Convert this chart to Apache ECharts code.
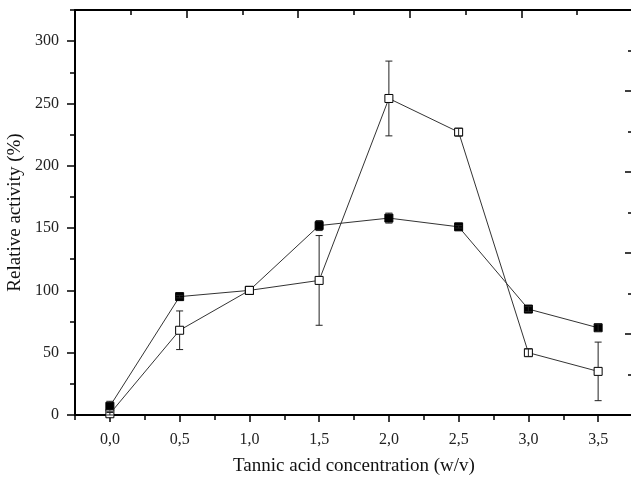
<!DOCTYPE html>
<html><head><meta charset="utf-8">
<script src="https://cdn.jsdelivr.net/npm/echarts@6/dist/echarts.min.js"></script>
<style>html,body{margin:0;padding:0;background:#fff}#c{width:631px;height:478px}</style>
</head><body><div id="c"></div>
<script>
const concentrations = [0, 0.5, 1.0, 1.5, 2.0, 2.5, 3.0, 3.5];
const filledValues = [7, 95, 100, 152, 158, 151, 85, 70];
const filledErrors = [4, 1, 0, 4, 4, 1, 2, 3];
const openValues = [1, 68, 100, 108, 254, 227, 50, 35];
const openErrors = [1, 15.5, 0, 36, 30, 3, 3, 23.5];
const xMajorTicks = [0, 0.5, 1, 1.5, 2, 2.5, 3, 3.5];
const xMinorTicks = [-0.25, 0.25, 0.75, 1.25, 1.75, 2.25, 2.75, 3.25, 3.75];
const yMajorTicks = [0, 50, 100, 150, 200, 250, 300];
const yMinorTicks = [25, 75, 125, 175, 225, 275, 325];
const rightMajorTicks = [0, 1, 2, 3, 4, 5];
const rightMinorTicks = [0.5, 1.5, 2.5, 3.5, 4.5];
const topMajorTicks = [0, 2, 4, 6, 8, 10];
const topMinorTicks = [1, 3, 5, 7, 9];

const FONT = '"Liberation Serif", "Times New Roman", serif';
const chart = echarts.init(document.getElementById('c'), null, {renderer: 'canvas'});

function hiddenAxisParts(o) {
  return Object.assign({
    axisLabel: {show: false},
    splitLine: {show: false},
    axisLine: {show: false, onZero: false}
  }, o);
}

function errorSeries(vals, errs) {
  return {
    type: 'custom',
    xAxisIndex: 0, yAxisIndex: 0,
    z: 5,
    silent: true,
    data: concentrations.map((x, i) => [x, vals[i], errs[i]]),
    renderItem: function (params, api) {
      const x = api.value(0), v = api.value(1), e = api.value(2);
      if (!e) return {type: 'group', children: []};
      const c = api.coord([x, v]);
      const hi = api.coord([x, v + e]);
      const lo = api.coord([x, v - e]);
      const w = 3.5, half = 4;
      const st = {stroke: '#222', lineWidth: 1};
      const ch = [];
      const epx = c[1] - hi[1];
      if (epx > half) {
        ch.push({type: 'line', shape: {x1: c[0], y1: hi[1], x2: c[0], y2: c[1] - half}, style: st});
        ch.push({type: 'line', shape: {x1: c[0], y1: c[1] + half, x2: c[0], y2: lo[1]}, style: st});
      } else {
        ch.push({type: 'line', shape: {x1: c[0], y1: hi[1], x2: c[0], y2: lo[1]}, style: st});
      }
      ch.push({type: 'line', shape: {x1: c[0] - w, y1: hi[1], x2: c[0] + w, y2: hi[1]}, style: st});
      ch.push({type: 'line', shape: {x1: c[0] - w, y1: lo[1], x2: c[0] + w, y2: lo[1]}, style: st});
      return {type: 'group', children: ch};
    }
  };
}

const option = {
  animation: false,
  backgroundColor: '#fff',
  grid: {left: 75, right: -2, top: 10, bottom: 63, containLabel: false, outerBoundsMode: 'none'},
  xAxis: [
    {
      type: 'value', position: 'bottom', min: -0.25, max: 3.75,
      name: 'Tannic acid concentration (w/v)', nameLocation: 'middle', nameGap: 42,
      nameTextStyle: {fontFamily: FONT, fontSize: 19, color: '#111'},
      axisLine: {show: true, onZero: false, lineStyle: {color: '#000', width: 2}},
      axisTick: {show: true, inside: false, length: 7, customValues: xMajorTicks, lineStyle: {color: '#000', width: 1.5}},
      axisLabel: {show: true, margin: 17, customValues: xMajorTicks, fontFamily: FONT, fontSize: 16, color: '#222',
        formatter: v => v.toFixed(1).replace('.', ',')},
      splitLine: {show: false}
    },
    hiddenAxisParts({
      type: 'value', position: 'bottom', min: -0.25, max: 3.75,
      axisTick: {show: true, inside: false, length: 5, customValues: xMinorTicks, lineStyle: {color: '#000', width: 1.5}}
    }),
    {
      type: 'value', position: 'top', min: 0, max: 10,
      axisLine: {show: true, onZero: false, lineStyle: {color: '#000', width: 2}},
      axisTick: {show: true, inside: true, length: 8, customValues: topMajorTicks, lineStyle: {color: '#000', width: 1.5}},
      axisLabel: {show: false}, splitLine: {show: false}
    },
    hiddenAxisParts({
      type: 'value', position: 'top', min: 0, max: 10,
      axisTick: {show: true, inside: true, length: 5, customValues: topMinorTicks, lineStyle: {color: '#000', width: 1.5}}
    })
  ],
  yAxis: [
    {
      type: 'value', position: 'left', min: 0, max: 325,
      name: 'Relative activity (%)', nameLocation: 'middle', nameGap: 44,
      nameTextStyle: {fontFamily: FONT, fontSize: 19, color: '#111'},
      axisLine: {show: true, onZero: false, lineStyle: {color: '#000', width: 2}},
      axisTick: {show: true, inside: false, length: 8, customValues: yMajorTicks, lineStyle: {color: '#000', width: 1.5}},
      axisLabel: {show: true, margin: 16, customValues: yMajorTicks, fontFamily: FONT, fontSize: 16, color: '#222'},
      splitLine: {show: false}
    },
    hiddenAxisParts({
      type: 'value', position: 'left', min: 0, max: 325,
      axisTick: {show: true, inside: false, length: 5, customValues: yMinorTicks, lineStyle: {color: '#000', width: 1.5}}
    }),
    hiddenAxisParts({
      type: 'value', position: 'right', min: 0, max: 5,
      axisTick: {show: true, inside: true, length: 8, customValues: rightMajorTicks, lineStyle: {color: '#000', width: 1.5}}
    }),
    hiddenAxisParts({
      type: 'value', position: 'right', min: 0, max: 5,
      axisTick: {show: true, inside: true, length: 5, customValues: rightMinorTicks, lineStyle: {color: '#000', width: 1.5}}
    })
  ],
  series: [
    {
      type: 'line', xAxisIndex: 0, yAxisIndex: 0, z: 3,
      data: concentrations.map((x, i) => [x, filledValues[i]]),
      symbol: 'rect', symbolSize: 8,
      lineStyle: {color: '#333', width: 1},
      itemStyle: {color: '#000', borderColor: '#000', borderWidth: 1}
    },
    {
      type: 'line', xAxisIndex: 0, yAxisIndex: 0, z: 4,
      data: concentrations.map((x, i) => [x, openValues[i]]),
      symbol: 'rect', symbolSize: 8,
      lineStyle: {color: '#333', width: 1},
      itemStyle: {color: '#fff', borderColor: '#000', borderWidth: 1}
    },
    errorSeries(filledValues, filledErrors),
    errorSeries(openValues, openErrors)
  ]
};
chart.setOption(option);
</script></body></html>
